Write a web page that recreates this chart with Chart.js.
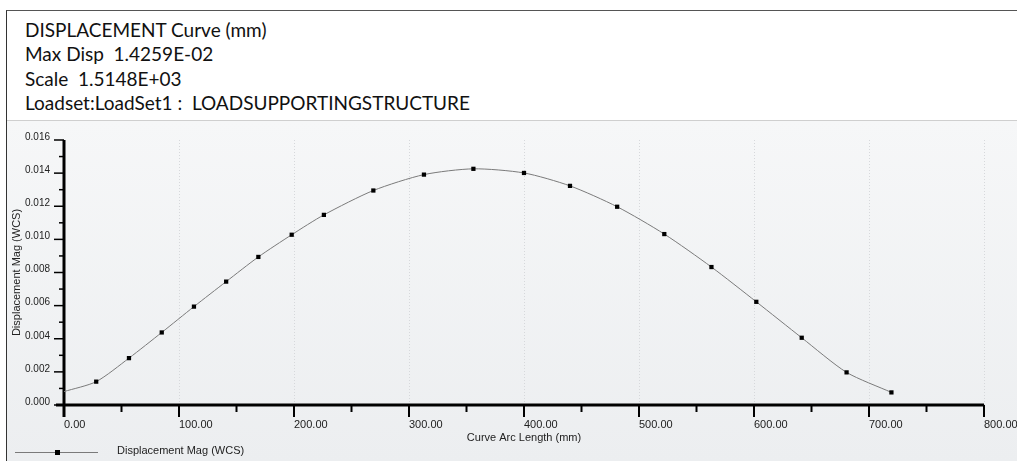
<!DOCTYPE html>
<html>
<head>
<meta charset="utf-8">
<script src="https://cdn.jsdelivr.net/npm/chart.js@4"></script>
<style>
  html, body { margin: 0; padding: 0; background: #fff; }
  #page { position: relative; width: 1017px; height: 461px; overflow: hidden; background: #fff; }
  #frame { position: absolute; left: 6px; top: 10px; width: 1011px; height: 451px;
           border-left: 1px solid #333; border-top: 1px solid #555; }
  #header { position: absolute; left: 25px; top: 18px; font-family: Lato, "Open Sans", sans-serif;
            font-size: 19px; line-height: 24.3px; color: #111; }
  #plotbg { position: absolute; left: 7px; top: 120px; width: 1010px; height: 341px;
            border-top: 1px solid #cfcfcf;
            background: linear-gradient(#f6f7f8, #eceef0); }
  #myChart { position: absolute; left: 0; top: 0; }
</style>
</head>
<body>
<div id="page">
  <div id="frame"></div>
  <div id="header">
    <div>DISPLACEMENT Curve (mm)</div>
    <div>Max Disp&nbsp; 1.4259E-02</div>
    <div>Scale&nbsp; 1.5148E+03</div>
    <div>Loadset:LoadSet1 :&nbsp; LOADSUPPORTINGSTRUCTURE</div>
  </div>
  <div id="plotbg"></div>
  <canvas id="myChart" width="1017" height="461"></canvas>
</div>
<script>
// data block
const arcLength = [
  0, 28, 56.5, 85, 113, 141, 169, 198, 226, 269, 313,
  356, 400, 440, 481, 522, 563, 602, 641.5, 680.5, 719.5,
];
const displacement = [
  0.00081, 0.00141, 0.00283, 0.00438, 0.00594, 0.00745, 0.00894,
  0.01028, 0.01148, 0.01295, 0.01391, 0.01426, 0.01401, 0.01323,
  0.01197, 0.01032, 0.00833, 0.00623, 0.00406, 0.00197, 0.00076,
];
const seriesLabel = "Displacement Mag (WCS)";
const xTitle = "Curve Arc Length (mm)";
const yTitle = "Displacement Mag (WCS)";

const points = arcLength.map((x, i) => ({ x: x, y: displacement[i] }));

// plugin - grid, heavy axes, minor ticks, legend
const axesPlugin = {
  id: "axesPlugin",
  beforeDatasetsDraw(chart) {
    const ctx = chart.ctx;
    const xs = chart.scales.x;
    const ys = chart.scales.y;
    const top = ys.getPixelForValue(0.016);
    const bottom = ys.getPixelForValue(0);
    const left = xs.getPixelForValue(0);
    const right = xs.getPixelForValue(800);
    ctx.save();
    // dotted vertical grid
    ctx.strokeStyle = "#d6d8db";
    ctx.lineWidth = 1;
    ctx.setLineDash([1, 2]);
    xs.ticks.forEach((t) => {
      const px = Math.round(xs.getPixelForValue(t.value)) + 0.5;
      if (t.value === 0) return;
      ctx.beginPath();
      ctx.moveTo(px, top);
      ctx.lineTo(px, bottom);
      ctx.stroke();
    });
    ctx.setLineDash([]);
    ctx.strokeStyle = "#000";
    // y ticks (major + minor)
    ctx.lineWidth = 1.5;
    ys.ticks.forEach((t) => {
      const py = ys.getPixelForValue(t.value);
      ctx.beginPath();
      ctx.moveTo(left - 10, py);
      ctx.lineTo(left, py);
      ctx.stroke();
      if (t.value < 0.016) {
        const pm = ys.getPixelForValue(t.value + 0.001);
        ctx.beginPath();
        ctx.moveTo(left - 5, pm);
        ctx.lineTo(left, pm);
        ctx.stroke();
      }
    });
    // x ticks (major + minor)
    ctx.lineWidth = 2;
    xs.ticks.forEach((t) => {
      const px = xs.getPixelForValue(t.value);
      ctx.beginPath();
      ctx.moveTo(px, bottom);
      ctx.lineTo(px, bottom + 12);
      ctx.stroke();
      if (t.value < 800) {
        const pm = xs.getPixelForValue(t.value + 50);
        ctx.beginPath();
        ctx.moveTo(pm, bottom);
        ctx.lineTo(pm, bottom + 7);
        ctx.stroke();
      }
    });
    // heavy axes
    ctx.lineWidth = 3;
    ctx.beginPath();
    ctx.moveTo(left, top);
    ctx.lineTo(left, bottom + 12);
    ctx.moveTo(left - 8, bottom);
    ctx.lineTo(right, bottom);
    ctx.stroke();
    ctx.restore();
  },
  afterDraw(chart) {
    // legend at bottom left
    const ctx = chart.ctx;
    const ds = chart.data.datasets[0];
    ctx.save();
    ctx.strokeStyle = ds.borderColor;
    ctx.lineWidth = 1;
    ctx.beginPath();
    ctx.moveTo(15, 452.5);
    ctx.lineTo(98, 452.5);
    ctx.stroke();
    ctx.fillStyle = "#000";
    ctx.fillRect(55, 450, 5, 5);
    ctx.fillStyle = "#222";
    ctx.font = "11px 'Liberation Sans', Arial, sans-serif";
    ctx.textBaseline = "middle";
    ctx.fillText(ds.label, 117, 451);
    ctx.restore();
  },
};

// config block
const config = {
  type: "line",
  data: {
    datasets: [
      {
        label: seriesLabel,
        data: points,
        borderColor: "#7a7a7a",
        borderWidth: 1,
        tension: 0.25,
        pointStyle: "rect",
        pointRadius: points.map((p, i) => (i === 0 ? 0 : 3)),
        pointBackgroundColor: "#000",
        pointBorderColor: "#000",
        pointBorderWidth: 0,
      },
    ],
  },
  options: {
    responsive: false,
    animation: false,
    events: [],
    layout: { padding: { left: 0, top: 140, right: 33, bottom: 0 } },
    plugins: { legend: { display: false }, tooltip: { enabled: false } },
    scales: {
      x: {
        type: "linear",
        min: 0,
        max: 800,
        grid: { display: false, drawTicks: false },
        border: { display: false },
        ticks: {
          stepSize: 100,
          align: "start",
          padding: 13,
          color: "#222",
          font: { family: "'Liberation Sans', Arial, sans-serif", size: 11 },
          callback: (v) => Number(v).toFixed(2),
        },
        title: {
          display: true,
          text: xTitle,
          color: "#222",
          font: { family: "'Liberation Sans', Arial, sans-serif", size: 11 },
          padding: { top: 0, bottom: 16 },
        },
        afterFit: (scale) => {
          scale.height = 56;
          scale.paddingLeft = 0;
          scale.paddingRight = 0;
        },
      },
      y: {
        min: 0,
        max: 0.016,
        grid: { display: false, drawTicks: false },
        border: { display: false },
        ticks: {
          stepSize: 0.002,
          padding: 14,
          labelOffset: -3,
          color: "#222",
          font: { family: "'Liberation Sans', Arial, sans-serif", size: 10 },
          callback: (v) => Number(v).toFixed(3),
        },
        title: {
          display: true,
          text: yTitle,
          color: "#222",
          font: { family: "'Liberation Sans', Arial, sans-serif", size: 11 },
          padding: { top: 10, bottom: 0 },
        },
        afterFit: (scale) => {
          scale.width = 64;
          scale.paddingTop = 0;
          scale.paddingBottom = 0;
        },
      },
    },
  },
  plugins: [axesPlugin],
};

// render init block
const myChart = new Chart(document.getElementById("myChart"), config);
</script>
</body>
</html>
